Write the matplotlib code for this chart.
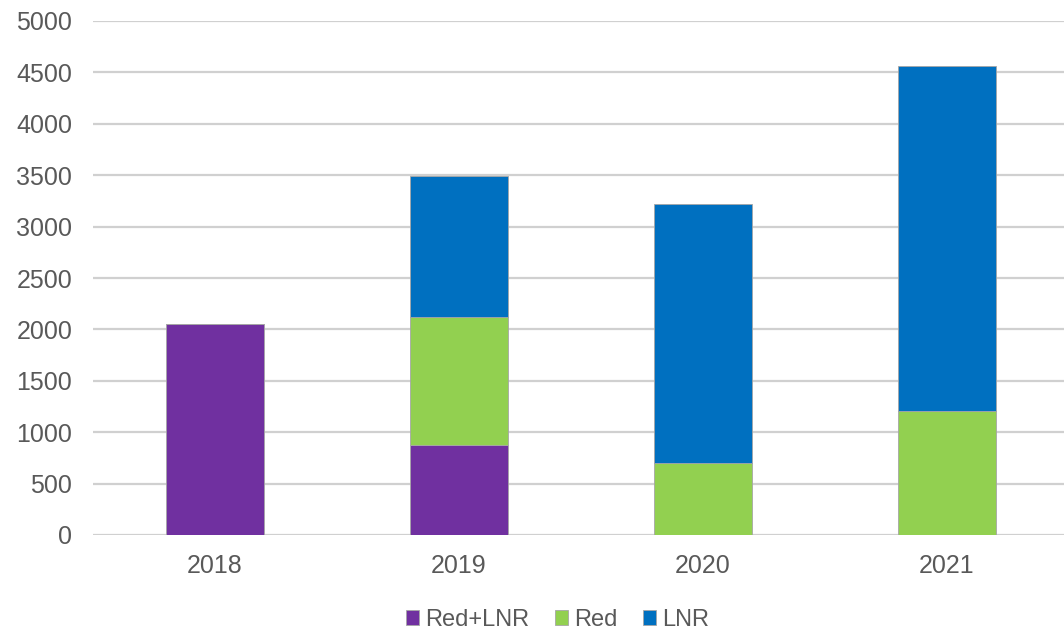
import numpy as np
import matplotlib.pyplot as plt

plt.rcParams['font.family'] = ['Liberation Sans', 'DejaVu Sans']

years = ['2018', '2019', '2020', '2021']
red_lnr = [2055, 875, 0, 0]
red = [0, 1245, 705, 1210]
lnr = [0, 1370, 2515, 3350]

fig = plt.figure(figsize=(10.64, 6.3), dpi=100)
ax = fig.add_axes([93 / 1064, 95 / 630, 976 / 1064, 514 / 630])

x = np.arange(len(years))
w = 0.4
edge = dict(edgecolor='#A6A6A6', linewidth=0.6)
ax.bar(x, red_lnr, w, color='#7030A0', label='Red+LNR', zorder=3, **edge)
ax.bar(x, red, w, bottom=red_lnr, color='#92D050', label='Red', zorder=3, **edge)
bottom2 = np.array(red_lnr) + np.array(red)
ax.bar(x, lnr, w, bottom=bottom2, color='#0070C0', label='LNR', zorder=3, **edge)

ax.set_xlim(-0.5, 3.5)
ax.set_ylim(0, 5000)
ax.set_yticks(range(0, 5001, 500))
ax.set_xticks(x)
ax.set_xticklabels(years)
ax.yaxis.grid(True, color='#D0D0D0', linewidth=1.6, zorder=0)
ax.tick_params(axis='both', length=0, labelsize=18, labelcolor='#595959')
ax.tick_params(axis='y', pad=15)
ax.tick_params(axis='x', pad=14)
for s in ax.spines.values():
    s.set_visible(False)

ax.legend(loc='lower center', bbox_to_anchor=(0.476, -0.228), ncol=3, frameon=False,
          fontsize=17, labelcolor='#595959', handlelength=0.55, handleheight=0.55,
          handletextpad=0.25, columnspacing=1.1)

fig.savefig('out.png', dpi=100)
